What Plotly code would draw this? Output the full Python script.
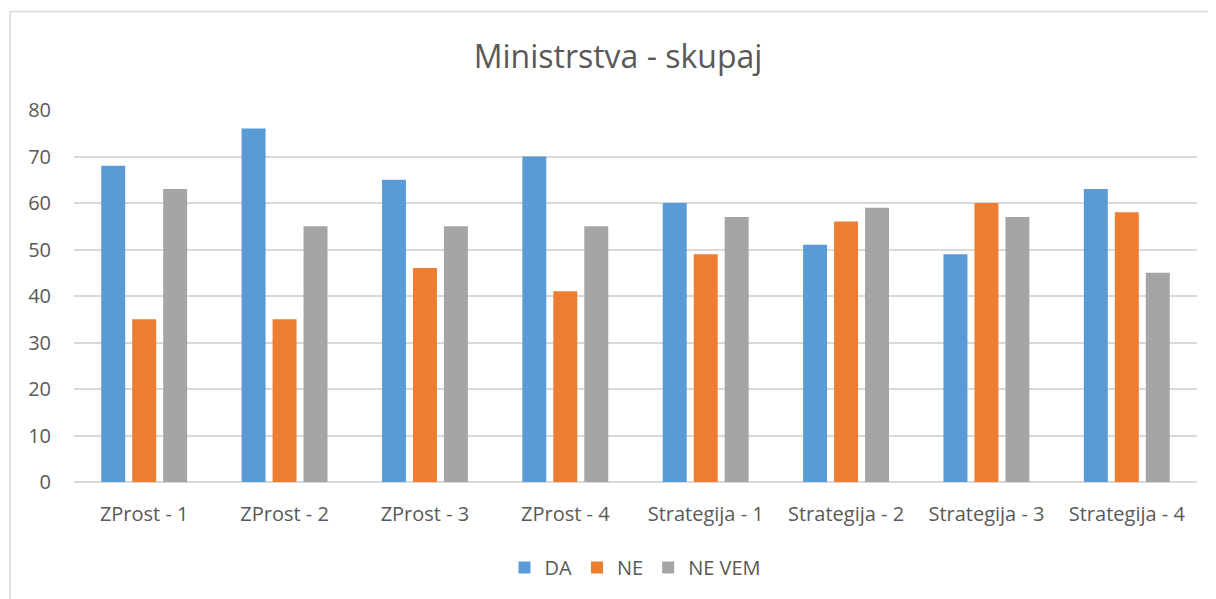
import plotly.graph_objects as go

categories = ["ZProst - 1", "ZProst - 2", "ZProst - 3", "ZProst - 4",
              "Strategija - 1", "Strategija - 2", "Strategija - 3", "Strategija - 4"]
da = [68, 76, 65, 70, 60, 51, 49, 63]
ne = [35, 35, 46, 41, 49, 56, 60, 58]
ne_vem = [63, 55, 55, 55, 57, 59, 57, 45]

series = [("DA", da, "#5B9BD5"), ("NE", ne, "#ED7D31"), ("NE VEM", ne_vem, "#A5A5A5")]

fig = go.Figure()
for name, vals, col in series:
    fig.add_trace(go.Bar(x=categories, y=vals, name=name, marker_color=col,
                         marker_line_width=0))

txt = "#595959"
fig.update_layout(
    width=1208, height=591,
    margin=dict(l=66, r=19, t=102, b=115),
    paper_bgcolor="white", plot_bgcolor="white",
    font=dict(family="Open Sans", color=txt, size=20),
    title=dict(text="Ministrstva - skupaj", x=0.505, xanchor="center",
               y=0.917, yanchor="middle", font=dict(size=32, color=txt)),
    barmode="group", bargap=0.338, bargroupgap=0.226,
    legend=dict(orientation="h", x=0.5, xanchor="center", y=-0.23, yanchor="middle",
                font=dict(size=20, color=txt), itemwidth=30, traceorder="normal"),
    xaxis=dict(showgrid=False, showline=False, ticks="", ticklabelstandoff=18),
    yaxis=dict(range=[0, 80], dtick=10, showgrid=True, gridcolor="#D9D9D9", gridwidth=1.5,
               zeroline=True, zerolinecolor="#D9D9D9", zerolinewidth=1.5,
               ticks="", ticklabelstandoff=22),
    shapes=[dict(type="rect", xref="paper", yref="paper",
                 x0=-0.057, x1=1.05, y0=-0.33, y1=1.2647,
                 line=dict(color="#D9D9D9", width=1.5), layer="below")],
)

fig.write_html("out.html")
